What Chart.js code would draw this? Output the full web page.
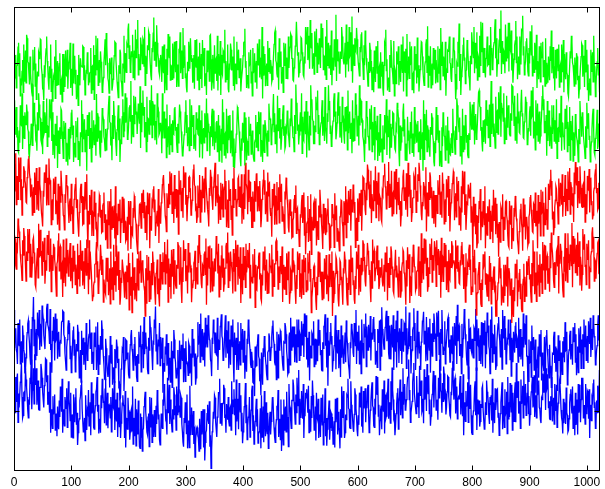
<!DOCTYPE html>
<html><head><meta charset="utf-8">
<script src="https://cdn.jsdelivr.net/npm/chart.js@4.4.1/dist/chart.umd.min.js"></script>
<style>html,body{margin:0;padding:0;background:#fff;}#wrap{width:605px;height:489px;}</style>
</head><body><div id="wrap"><canvas id="c" width="605" height="489"></canvas></div>
<script>
// one value per sample, samples 0..1023
const xStep = 1;
const xMin = 0, xMax = 1023;
const xTickValues = [0,100,200,300,400,500,600,700,800,900,1000];
const yTickValues = [100,200,300,400,500];
const yMin = 31, yMax = 564;

const green1 = [
508,481,486,509,471,496,497,518,523,485,511,462,482,474,490,503,466,521,479,492,514,477,532,528,501,500,488,475,507,488,476,466,
462,515,491,499,518,473,499,458,473,490,485,512,509,504,527,526,494,487,470,470,457,497,483,506,516,530,502,494,479,469,496,483,
521,467,493,456,468,484,481,507,459,526,474,489,502,475,489,499,511,464,478,481,455,510,467,510,496,472,514,486,485,515,470,493,
499,504,523,471,487,493,462,522,476,501,508,476,492,458,466,486,451,509,483,474,505,497,497,495,519,518,480,497,463,478,490,489,
512,502,474,478,488,489,517,465,495,496,469,520,458,509,486,531,509,492,528,474,491,503,477,513,501,493,466,471,483,500,512,527,
497,534,520,500,482,478,465,505,491,487,506,468,473,481,495,508,524,523,503,490,478,469,460,497,488,515,511,479,476,462,499,494,
531,477,511,494,489,521,518,538,545,505,520,489,496,513,507,532,483,497,514,480,538,506,527,517,549,486,510,501,492,529,521,512,
499,528,526,496,541,474,508,499,487,520,515,536,533,509,497,485,480,517,512,534,552,503,518,524,496,543,523,511,505,490,486,502,
509,500,478,519,493,488,521,465,504,491,469,516,486,533,513,506,530,480,497,496,481,522,505,482,524,509,489,525,472,494,498,473,
516,511,535,488,503,514,482,540,494,504,520,483,488,472,466,501,491,524,512,493,528,509,501,505,477,481,509,470,526,499,495,527,
480,491,507,469,523,482,492,510,471,526,498,497,517,473,486,488,463,514,489,501,514,479,531,532,504,468,478,509,494,470,520,488,
503,505,479,531,468,510,497,485,525,463,509,489,486,514,512,500,538,478,502,494,481,521,470,466,499,492,522,515,491,497,507,474,
530,468,498,499,476,524,492,508,515,483,489,505,467,480,480,494,508,523,524,539,495,502,471,485,486,471,512,497,499,515,477,490,
462,517,488,493,511,478,493,502,470,522,501,497,527,483,506,506,481,541,459,519,485,490,510,473,496,499,474,525,490,512,517,488,
503,496,478,481,492,507,521,534,537,503,500,487,483,512,469,528,495,501,513,476,488,495,466,523,497,508,522,482,506,499,481,530,
494,511,518,533,531,505,505,480,479,494,496,519,525,547,547,508,512,483,489,498,503,529,528,512,508,486,484,507,499,541,523,522,
541,503,510,531,493,549,519,517,534,493,506,511,487,536,512,507,539,489,523,514,498,528,514,494,545,519,518,540,492,508,507,486,
530,481,549,497,515,523,494,510,520,486,537,474,506,501,491,527,516,496,555,479,527,504,502,513,488,489,513,505,541,530,519,502,
498,506,523,483,544,498,512,524,490,541,507,509,535,491,553,477,521,505,497,528,515,513,540,527,511,500,493,485,518,512,532,535,
505,499,481,520,497,537,522,505,494,486,473,501,489,523,515,490,502,469,478,495,466,514,493,478,519,506,488,525,471,493,496,471,
512,486,485,501,470,462,497,523,520,538,491,504,468,481,483,467,509,495,526,513,494,488,476,525,462,493,490,476,513,502,498,519,
474,494,502,478,521,499,489,530,467,513,495,489,516,462,533,480,501,507,482,524,497,497,519,469,486,488,465,519,491,503,510,476,
529,483,497,467,480,492,506,524,523,507,490,480,474,496,501,521,527,489,542,472,508,503,485,519,471,491,499,474,517,500,492,515,
476,503,503,478,519,491,488,516,469,540,497,507,524,485,507,499,480,524,462,492,489,514,513,518,530,500,499,482,478,505,494,529,
515,513,487,458,470,499,496,524,511,545,479,510,463,484,488,497,520,529,503,506,476,490,492,526,517,502,485,481,468,508,499,535,
524,513,506,541,488,523,511,494,535,480,509,506,484,531,497,547,522,512,546,489,513,517,491,483,505,509,530,497,498,504,520,486,
541,511,517,492,496,518,523,535,550,505,528,484,502,499,514,526,539,512,560,487,525,506,499,514,512,488,544,502,521,530,505,546,
490,546,516,513,537,491,511,477,493,504,520,525,548,500,530,481,501,507,487,530,513,498,538,537,554,509,519,486,496,502,524,528,
511,490,485,517,499,536,527,509,543,485,508,500,489,523,515,492,532,471,502,496,481,519,496,478,523,505,509,524,484,498,503,473,
528,476,500,492,477,507,493,480,519,502,537,488,504,518,482,496,468,515,495,482,516,504,491,521,472,495,498,478,521,503,489,526,
466,510,493,481,512,489,486,465,461,478,478,513,505,531,524,500,497,487,473,506,488,475,511,507,480,485,459,470,484,496,507,522,
520,484,497,508,472,526,489,493,515,469,498,456,476,482,463,515,490,501,512,478,531,495,496,461,474,490,501,517,486,498,470,472];

const green2 = [
434,457,418,440,449,414,426,399,397,422,408,451,429,428,465,401,439,416,413,443,436,429,452,444,424,421,395,393,406,407,430,425,
405,475,427,454,440,429,414,417,399,443,423,465,452,438,436,411,408,432,395,456,417,420,443,436,420,459,404,427,426,414,458,440,
437,458,410,443,394,417,416,390,430,406,405,439,379,422,401,396,426,413,447,445,421,408,390,433,413,415,431,387,408,401,382,424,
401,389,426,413,442,446,417,428,386,404,408,392,433,418,415,437,389,410,403,381,420,415,457,398,441,421,412,435,398,402,423,376,
440,426,416,443,401,411,425,386,445,402,420,434,406,419,429,393,464,410,442,438,413,422,396,391,422,408,448,440,435,415,411,399,
424,400,409,424,435,451,462,432,431,405,415,388,440,413,456,439,429,420,404,393,423,434,451,411,436,386,410,407,427,438,458,415,
443,421,465,431,437,460,412,415,426,448,451,433,479,407,440,424,415,462,430,439,461,441,444,418,418,453,439,430,473,402,454,420,
453,468,439,449,414,426,432,398,461,409,436,435,418,457,442,428,474,414,456,452,428,452,411,423,433,406,465,441,444,417,419,431,
421,429,396,465,413,439,444,413,418,436,391,452,403,424,427,395,440,406,414,430,398,434,419,418,447,449,422,426,406,397,430,408,
429,452,444,436,421,408,393,395,407,417,425,443,457,420,440,404,414,426,399,458,422,405,451,427,428,440,401,414,416,399,443,423,
436,418,417,451,391,434,412,407,445,390,423,425,408,442,427,414,459,399,442,430,421,419,393,427,415,438,447,404,428,445,400,421,
408,431,433,398,415,440,387,428,401,400,424,385,458,407,443,394,417,419,390,447,406,396,439,411,422,440,396,422,413,393,445,381,
413,379,397,401,418,426,449,447,432,421,408,390,381,413,399,431,426,408,443,382,416,437,388,410,407,394,438,416,422,430,395,405,
422,400,391,387,408,411,440,403,415,432,399,444,426,418,443,392,411,407,386,429,402,397,434,428,419,409,393,422,410,453,438,435,
436,406,414,429,446,464,421,442,407,413,429,396,462,422,438,448,413,435,400,411,425,440,451,416,427,401,404,425,422,445,440,420,
420,403,436,427,459,440,427,414,414,398,440,419,475,447,454,422,429,406,417,430,443,421,465,396,438,413,411,444,432,418,456,391,
444,432,416,400,439,417,474,453,458,435,433,407,407,428,421,461,450,446,468,419,440,406,413,425,431,443,457,416,436,438,410,472,
426,418,407,442,432,474,446,456,419,428,404,411,425,433,455,465,438,444,412,419,431,453,466,439,450,414,422,432,408,461,434,436,
417,407,449,421,426,450,400,468,419,440,444,413,423,431,396,457,410,436,432,410,465,444,447,416,421,439,405,474,428,458,456,433,
434,415,411,403,386,424,407,456,438,437,415,416,400,447,424,430,451,398,432,422,405,449,388,433,413,412,439,387,420,409,393,441,
397,412,413,386,428,409,401,440,423,421,458,394,439,415,417,446,390,430,403,403,425,443,442,417,416,401,399,427,424,454,447,437,
397,381,428,399,409,426,422,443,453,416,435,388,400,407,387,438,411,422,403,395,432,413,444,397,418,418,392,449,407,432,429,408,
415,433,398,415,421,389,435,403,402,420,376,457,389,441,413,412,446,398,428,423,404,401,392,426,418,442,437,417,410,386,381,408,
396,449,411,432,440,408,422,381,393,399,381,426,404,443,437,416,415,388,428,407,400,438,385,422,407,395,394,413,419,397,447,418,
422,408,395,427,412,459,451,442,429,421,437,393,415,415,383,447,398,428,424,400,440,436,408,417,394,391,419,412,455,445,431,423,
452,425,423,455,406,438,441,412,417,431,431,466,468,450,449,422,426,408,398,434,409,426,435,407,457,432,428,446,414,419,452,404,
441,479,418,440,453,415,430,430,402,461,420,444,445,418,466,439,437,473,415,454,448,443,433,465,407,437,424,412,462,426,439,451,
445,418,416,442,434,474,473,456,451,428,462,411,438,433,407,465,431,444,420,419,444,453,469,439,442,414,413,432,435,461,455,436,
406,407,425,421,443,450,416,468,438,440,472,413,432,431,400,457,417,436,453,410,435,444,407,416,428,439,461,474,446,458,419,433,
419,440,393,456,410,429,445,404,426,423,402,451,418,436,451,410,434,427,407,458,390,424,425,409,442,435,414,462,399,431,430,415,
416,400,447,424,430,451,398,432,422,405,449,388,433,413,412,439,387,420,409,393,441,434,415,411,403,386,424,407,456,438,437,415,
443,439,417,417,401,390,427,403,454,425,437,442,412,416,386,399,409,424,440,447,421,397,394,413,415,428,446,401,430,423,403,458];

const red1 = [
384,352,356,396,337,369,369,343,391,374,363,391,342,366,325,357,357,381,376,365,361,340,339,368,372,389,393,373,367,347,348,360,
325,344,357,328,374,355,348,379,331,347,364,330,380,361,353,340,327,321,312,353,346,374,369,362,383,336,355,368,337,390,362,365,
362,314,335,343,319,367,350,352,369,326,341,339,314,361,331,308,358,340,376,362,349,346,325,323,308,349,339,371,360,358,344,330,
316,340,344,318,361,326,335,304,320,343,352,360,368,333,343,324,311,300,328,336,355,361,339,347,314,315,346,331,363,357,332,372,
312,287,330,315,348,340,325,354,301,329,327,301,352,323,339,312,314,293,290,327,323,348,345,322,331,305,306,336,338,351,316,326,
296,303,320,287,341,324,314,341,287,355,309,329,335,311,323,336,298,358,277,327,312,302,338,318,325,343,293,321,316,346,332,305,
344,319,318,295,297,306,323,284,341,323,314,341,286,312,304,302,333,322,347,344,321,315,296,288,280,313,315,337,338,326,310,350,
328,348,354,322,340,305,312,336,296,351,331,326,350,287,324,315,307,340,337,354,358,329,343,301,316,323,330,312,355,293,336,327,
315,339,343,360,366,371,350,342,324,319,306,350,339,334,361,338,375,362,348,373,327,344,352,316,371,332,345,355,322,329,354,303,
376,349,349,365,330,341,356,322,381,357,364,374,337,348,318,337,345,368,369,353,354,325,331,342,362,377,383,360,358,333,335,316,
323,359,346,334,371,317,354,344,328,370,345,354,367,328,380,368,353,341,331,325,312,356,347,377,369,350,342,331,357,362,373,385,
335,358,357,340,372,315,346,344,320,362,332,337,361,323,353,357,377,332,364,311,329,343,311,365,342,348,355,320,336,302,367,334,
380,342,351,355,324,336,343,367,369,335,357,357,333,372,315,346,348,320,372,332,385,361,359,353,326,377,340,364,363,329,346,311,
311,352,339,318,364,341,351,372,373,329,358,342,330,364,343,311,321,343,354,365,377,349,365,326,336,352,318,374,347,361,362,333,
324,328,300,355,336,339,361,314,347,346,315,363,331,332,357,316,372,344,340,361,318,335,326,320,304,352,343,368,360,343,333,311,
305,338,343,324,329,299,300,319,322,343,348,328,359,304,331,333,308,309,289,296,326,322,340,348,316,331,351,302,334,280,305,315,
317,347,294,321,332,296,349,280,323,315,308,338,341,310,319,344,290,318,311,297,336,323,354,341,326,314,303,286,338,304,315,333,
302,306,322,331,344,315,315,284,288,311,313,337,337,322,326,288,350,319,319,336,295,310,306,295,284,323,323,342,341,317,312,290,
341,337,314,358,299,343,332,316,353,330,325,355,307,336,343,328,360,354,328,340,288,312,322,296,344,331,317,350,335,324,354,307,
337,369,368,354,353,331,325,362,342,383,377,358,360,335,333,376,316,349,349,330,365,356,341,381,322,364,357,337,374,318,348,345,
336,320,317,352,349,370,370,384,358,356,332,333,364,348,386,334,361,335,340,376,324,349,351,326,375,355,343,378,326,363,357,337,
368,331,341,312,325,347,356,369,377,342,350,357,331,373,362,323,385,346,359,371,334,354,317,328,344,345,370,367,354,380,328,353,
341,372,365,385,376,359,347,326,319,340,335,363,358,346,332,380,306,351,342,324,363,343,374,369,345,357,322,333,353,315,337,348,
311,348,343,327,365,352,349,371,326,345,352,322,374,354,361,315,333,343,317,366,346,350,370,324,355,306,329,339,342,361,364,375,
372,319,346,350,323,369,341,341,364,314,333,331,307,358,328,376,353,349,375,325,349,308,324,339,338,360,360,344,344,362,317,335,
321,277,346,312,332,338,303,325,287,293,324,316,341,332,355,296,329,320,311,341,336,314,358,287,327,309,302,335,318,323,343,298,
330,311,306,336,293,354,319,326,345,303,328,338,299,315,277,317,312,294,335,332,321,349,296,323,316,308,340,341,325,319,301,290,
288,341,319,314,336,286,310,304,295,333,323,347,342,321,317,296,290,280,306,315,331,338,315,310,284,344,311,318,337,297,322,323,
312,290,293,323,327,345,348,331,322,306,305,338,336,316,351,312,326,330,287,348,315,325,340,301,354,327,329,352,301,339,323,314,
357,320,332,309,311,361,343,353,365,377,348,364,320,329,302,311,334,342,358,355,340,336,315,367,344,335,362,357,337,372,323,346,
347,340,371,324,355,351,330,375,358,343,379,326,363,357,337,336,350,317,374,349,386,370,359,380,333,361,364,339,381,362,356,335,
334,359,361,334,376,317,349,344,326,370,355,354,378,328,363,368,337,341,320,325,352,356,370,377,384,350,356,331,333,362,348,385];

const red2 = [
275,301,298,267,263,289,286,321,314,306,296,280,271,264,250,296,279,310,301,285,268,249,283,273,309,282,292,309,254,292,277,253,
270,296,299,282,281,245,242,264,264,287,253,315,277,304,308,278,284,256,295,285,271,299,246,261,273,261,302,290,280,307,260,272,
298,237,279,265,261,292,288,274,266,248,232,269,272,295,304,261,287,289,251,266,269,231,297,247,276,272,243,298,258,284,285,255,
267,281,293,249,276,264,241,290,260,273,284,245,268,261,235,292,252,275,279,243,296,268,261,284,244,257,272,240,287,272,256,297,
265,270,234,296,251,283,283,259,259,226,232,244,248,268,269,280,294,254,272,235,240,262,266,291,278,257,257,274,225,251,244,237,
234,276,260,249,276,233,250,264,223,283,240,255,265,228,291,245,268,272,237,290,256,263,283,239,262,222,231,253,247,274,274,258,
244,230,260,252,229,267,252,248,281,216,270,233,249,254,213,282,239,260,265,228,242,247,226,275,254,239,283,258,272,284,248,263,
273,266,251,243,238,209,264,224,279,250,255,277,226,261,242,228,270,245,283,271,261,254,235,222,258,259,274,234,252,231,220,280,
239,271,266,246,282,267,260,294,246,280,271,258,297,225,275,243,250,269,229,285,255,262,286,234,263,273,245,241,268,264,294,290,
281,245,256,288,240,224,265,248,296,273,274,286,249,261,267,235,293,259,279,282,262,264,225,246,241,250,270,272,284,240,259,265,
246,290,270,302,285,279,261,246,241,268,266,255,280,283,257,298,222,276,244,289,273,264,290,236,264,287,238,272,251,243,275,261,
269,301,284,279,258,292,231,267,262,239,278,290,253,275,237,246,264,264,289,293,270,305,242,282,257,249,283,271,266,258,235,286,
260,281,238,296,266,275,291,245,277,262,252,288,224,269,263,234,288,250,273,278,242,292,259,266,285,274,264,293,230,268,249,254,
247,280,261,254,286,219,268,240,239,265,264,277,282,251,258,229,226,256,244,283,272,262,289,238,267,274,235,258,256,235,281,267,
266,259,291,232,274,248,243,269,269,294,296,272,284,240,260,266,247,278,273,257,289,225,268,244,240,265,265,234,281,251,257,283,
251,223,236,262,259,238,287,259,273,268,255,237,223,256,240,283,266,262,281,231,258,247,229,274,252,234,279,260,264,276,237,250,
239,281,258,270,284,249,263,213,230,239,252,265,267,242,248,226,216,254,233,283,254,272,282,248,260,244,228,260,247,229,275,252,
259,279,234,255,252,226,280,242,266,270,243,283,209,261,224,235,250,258,277,274,261,252,228,220,245,273,271,251,254,238,222,264,
258,283,274,262,253,231,222,247,239,274,263,234,290,260,272,276,245,250,228,223,255,240,283,265,264,291,233,268,249,237,276,256,
261,296,292,274,275,249,243,267,268,293,284,279,257,262,240,225,272,241,297,270,281,284,249,259,264,281,290,256,273,240,245,265,
253,262,275,249,243,253,268,237,282,264,260,289,227,270,251,242,276,257,289,283,264,266,238,235,262,269,285,254,267,258,249,231,
277,249,261,230,238,264,270,285,283,259,257,242,222,273,243,288,268,263,280,224,254,252,232,277,259,291,286,266,265,238,241,260,
261,266,289,232,266,272,231,304,247,287,272,251,298,269,284,297,255,276,237,243,265,258,292,285,274,298,248,279,269,261,295,288,
277,243,296,268,271,286,257,262,284,230,299,248,278,276,248,293,265,271,291,239,272,260,237,285,253,251,281,265,295,290,269,272,
273,269,241,296,264,284,290,260,271,247,246,273,267,289,294,268,280,240,258,265,225,281,243,257,269,266,285,291,262,274,234,243,
237,278,260,267,285,246,264,210,233,236,256,262,271,239,247,223,220,251,239,280,266,269,283,245,258,241,232,257,251,226,278,249,
270,223,254,245,239,260,266,241,244,209,209,226,228,247,250,275,277,253,264,221,242,240,225,268,251,232,268,251,243,277,220,256,
264,258,233,235,252,201,239,216,208,242,226,269,261,253,274,220,250,237,258,263,229,246,217,214,243,251,269,226,254,244,232,272,
257,266,274,278,251,257,237,225,270,244,296,265,283,234,259,251,226,283,244,259,268,232,280,248,254,269,235,294,262,272,291,240,
290,262,275,278,246,253,264,237,293,264,305,289,282,270,249,242,271,257,258,283,286,266,301,235,279,269,292,284,267,258,239,231,
277,260,304,249,287,273,248,304,270,280,262,291,284,267,316,242,301,269,275,298,259,276,291,256,305,266,280,295,244,277,268,238,
257,309,286,291,303,266,268,245,292,274,278,296,241,263,260,278,283,304,311,287,300,249,274,272,252,270,281,293,295,258,257,281];

const blue1 = [
216,172,191,195,170,167,154,201,181,175,205,154,173,180,156,198,187,171,166,143,147,161,179,190,200,204,188,178,162,153,194,137,
208,203,231,175,205,159,180,194,163,213,190,187,216,170,200,200,174,221,214,206,187,179,171,193,202,218,223,199,196,191,177,217,
170,177,144,192,180,208,201,158,212,181,183,206,160,189,191,163,175,180,179,202,203,215,214,188,185,166,157,147,173,182,196,204,
188,201,160,175,144,156,173,192,197,164,182,145,156,177,169,199,191,171,138,150,170,133,192,165,176,184,153,169,179,147,201,180,
158,167,183,188,205,172,179,190,154,163,168,147,190,178,174,197,147,169,202,142,176,159,153,186,171,204,194,177,163,153,137,136,
183,172,157,146,139,150,164,127,186,159,155,176,130,150,146,133,171,166,149,182,174,155,160,129,131,114,115,148,152,171,169,185,
123,147,158,182,181,159,167,161,142,138,162,176,186,193,171,167,147,152,176,185,152,163,139,134,165,155,191,180,174,198,145,170,
176,191,149,208,165,181,190,172,174,148,143,184,170,209,196,195,181,163,147,179,178,205,195,220,169,188,154,166,182,174,201,152,
185,166,160,184,121,155,149,145,174,165,188,152,163,178,135,161,157,133,146,180,127,169,161,193,182,162,156,138,139,149,170,127,
120,181,152,148,176,163,158,189,133,172,162,134,180,157,155,155,141,178,175,143,150,166,129,194,161,176,183,151,166,130,138,159,
163,202,176,185,200,156,212,163,185,194,159,180,190,151,207,173,182,199,173,210,197,182,181,159,156,140,184,177,205,191,189,167,
190,165,164,207,147,181,179,170,197,201,211,186,183,158,160,175,175,210,161,193,188,166,203,149,176,182,153,198,182,174,205,155,
133,190,165,174,184,147,169,202,147,176,180,153,201,171,175,194,156,163,192,137,164,158,145,183,177,205,199,179,171,154,150,168,
158,133,132,149,117,174,151,152,174,177,188,163,160,134,142,118,167,155,130,172,162,186,179,160,153,142,136,167,169,189,185,158,
159,173,186,197,204,182,177,156,153,169,136,191,167,138,188,170,172,192,190,176,163,153,147,179,178,201,197,188,169,160,142,144,
185,190,153,207,170,182,197,173,181,197,156,181,188,156,205,184,174,205,158,189,186,163,203,176,177,200,162,212,194,185,210,159,
184,150,159,191,135,175,168,161,190,188,176,203,151,176,183,153,161,182,157,205,175,190,193,164,170,147,146,179,172,197,197,211,
175,190,150,207,129,181,164,170,190,201,177,186,145,158,168,175,184,210,148,193,172,166,193,149,166,182,139,198,161,174,187,155,
161,173,190,156,204,187,178,166,153,147,137,179,172,200,195,188,167,162,201,194,175,216,154,191,180,170,198,154,171,181,143,205,
178,174,161,200,191,185,212,151,197,182,170,199,184,173,209,158,190,186,182,205,208,180,194,153,166,169,150,194,185,178,204,147,
205,163,219,194,192,178,171,182,196,206,215,180,189,209,166,160,198,176,159,199,187,173,210,147,194,183,168,204,150,215,183,186,
155,195,182,169,206,154,191,182,168,201,199,176,220,149,195,165,172,190,213,174,186,143,167,170,193,196,218,181,201,147,174,178,
215,160,188,191,166,175,147,179,182,203,204,214,177,185,192,157,208,173,158,196,181,170,206,144,189,180,163,201,180,212,202,183,
189,158,213,186,200,215,165,190,147,194,178,216,191,165,172,170,203,154,171,181,193,205,208,173,182,156,156,187,168,166,197,147,
152,201,185,175,209,154,222,180,196,198,163,171,177,143,200,161,183,190,217,204,188,178,161,153,180,137,206,172,194,195,170,167,
183,170,161,196,194,181,217,147,205,178,176,195,158,169,187,154,202,182,151,201,179,176,204,149,191,165,213,190,198,174,170,143,
205,173,220,156,188,187,166,199,174,147,152,179,191,200,208,188,181,162,172,194,148,216,184,191,209,170,195,154,163,181,179,205,
182,189,159,205,140,184,177,156,191,181,167,197,202,173,185,182,156,207,163,190,194,159,180,185,151,212,173,200,199,176,210,163,
163,140,134,182,155,156,180,139,198,170,170,185,147,160,182,121,159,149,161,174,138,188,176,163,193,135,167,157,152,146,185,127,
169,186,193,171,162,147,138,176,149,152,127,139,166,165,184,191,155,174,145,172,165,123,187,158,158,181,131,167,156,142,180,162,
185,156,202,169,170,191,130,138,164,170,186,192,159,176,177,153,196,179,183,201,156,188,141,160,174,144,195,173,167,197,149,182,
166,188,149,205,182,174,198,158,174,186,155,203,190,177,207,162,181,194,170,210,201,185,186,153,158,170,175,197,210,181,193,156];

const blue2 = [
124,101,98,139,111,137,143,87,120,104,104,133,140,155,116,92,95,121,122,111,149,136,127,116,101,92,113,107,138,131,159,102,
124,125,149,108,165,134,130,149,107,121,135,102,101,127,127,154,148,138,122,113,104,129,131,160,159,133,141,107,112,122,98,156,
75,102,90,80,117,96,103,119,78,93,97,71,105,84,79,112,93,128,121,99,137,75,102,90,83,116,109,103,126,81,96,134,
114,105,89,121,70,90,96,69,119,96,87,115,126,84,98,61,75,87,91,112,117,129,135,102,102,76,80,92,66,118,93,78,
101,98,124,83,93,110,72,133,97,104,120,81,79,96,106,122,125,139,99,107,74,89,91,75,118,103,137,126,110,111,86,125,
137,84,102,121,80,106,107,101,92,116,76,83,126,105,103,134,78,113,95,88,121,70,104,98,82,121,69,86,96,109,118,107,
105,69,123,58,92,87,79,115,98,99,67,76,99,102,77,128,62,92,88,71,114,60,102,89,73,112,81,59,57,97,70,93,
54,78,80,105,113,122,99,89,76,73,93,97,59,116,88,81,115,64,96,90,70,101,82,70,106,85,124,113,91,96,67,61,
72,97,84,80,113,106,131,121,102,89,87,73,138,98,110,130,85,113,98,86,76,102,91,127,119,95,106,78,128,109,95,125,
101,103,93,118,115,85,76,64,59,92,86,110,95,74,119,57,83,89,58,129,72,95,104,73,88,100,62,82,47,63,79,76,
81,79,67,54,91,68,56,100,73,84,102,58,102,43,64,75,78,97,107,89,85,111,59,72,34,55,76,82,99,91,118,115,
88,79,70,93,98,121,121,137,86,102,109,83,107,109,130,126,92,96,75,108,101,90,116,88,83,103,105,78,134,97,113,105,
125,95,114,72,136,88,97,114,79,132,108,99,118,77,98,63,76,90,105,111,132,86,107,67,83,93,94,116,70,84,101,123,
129,77,95,62,73,88,100,114,82,102,63,73,76,81,103,57,118,70,85,105,64,123,92,71,110,79,74,98,57,67,89,99,
73,88,97,115,116,96,81,70,64,82,90,106,101,124,70,91,85,67,113,54,96,80,61,113,78,99,105,76,122,93,89,59,
131,107,104,89,80,112,112,136,129,110,98,85,119,98,138,123,106,147,85,114,97,92,123,106,91,131,69,99,94,121,115,125,
112,98,129,75,102,91,76,117,92,135,118,102,78,80,105,66,121,93,90,114,69,89,96,70,115,96,84,119,61,87,87,126,
71,92,60,79,89,98,112,67,81,99,97,77,93,62,69,88,58,114,87,102,115,73,99,81,76,57,102,70,128,105,92,123,
99,69,75,96,90,118,116,137,103,102,81,80,134,107,102,92,80,76,96,126,119,103,93,78,71,95,84,121,112,104,128,82,
98,75,123,103,109,126,87,111,103,125,130,98,75,83,101,110,124,133,106,104,83,81,114,96,140,122,119,139,94,107,72,89,
101,106,79,125,110,99,135,74,119,91,94,118,116,137,91,110,105,86,134,101,150,124,113,93,96,72,82,97,108,120,126,79,
111,116,136,95,116,122,92,149,107,127,131,101,102,113,126,138,139,159,113,124,87,98,104,111,133,143,155,120,120,104,97,140,
105,109,121,92,152,118,125,135,99,102,114,86,148,113,117,139,100,154,126,120,141,97,113,83,94,111,119,129,146,104,130,141,
129,101,104,113,90,138,115,159,143,124,121,98,132,111,151,143,117,120,96,104,122,140,139,116,108,95,93,122,118,149,157,127,
113,135,138,97,109,128,91,112,116,114,130,140,96,119,121,94,142,72,110,98,88,123,105,109,133,87,151,103,119,130,95,75,
73,91,100,105,126,134,95,150,78,113,103,96,112,82,88,108,104,126,129,101,101,79,80,110,96,135,122,119,109,94,85,116,
107,118,89,137,75,110,103,86,126,101,111,124,125,93,98,72,83,97,110,120,133,79,104,106,81,125,96,99,122,74,139,91,
110,93,132,114,99,130,78,121,104,88,123,133,87,155,115,120,134,97,102,111,80,136,108,116,129,92,146,107,114,131,95,102,
120,151,97,117,83,96,111,122,129,139,104,108,141,93,109,118,92,157,118,129,135,104,102,90,86,115,113,143,139,121,154,132,
101,149,125,128,142,103,111,91,90,117,106,139,88,112,115,85,131,106,100,130,81,94,109,110,136,133,119,101,92,88,74,114,
86,110,102,85,127,98,95,76,78,91,109,119,125,106,97,128,80,95,106,72,121,84,89,113,73,131,98,102,130,87,113,138,
114,138,92,106,106,85,131,97,99,123,121,91,125,69,107,94,89,115,112,131,136,104,110,80,85,112,98,129,123,98,147,119];

const seriesList = [
  {name:'green1', data:green1, color:'#00ff00'},
  {name:'green2', data:green2, color:'#00ff00'},
  {name:'red1',   data:red1,   color:'#ff0000'},
  {name:'red2',   data:red2,   color:'#ff0000'},
  {name:'blue1',  data:blue1,  color:'#0000ff'},
  {name:'blue2',  data:blue2,  color:'#0000ff'}
];

const toPoints = arr => arr.map((v, i) => ({x: i * xStep, y: v}));

const framePlugin = {
  id: 'frame',
  afterDatasetsDraw(chart) {
    const {ctx, chartArea: a, scales: {x, y}} = chart;
    const L = Math.round(a.left) + 0.5, R = Math.round(a.right) - 0.5;
    const T = Math.round(a.top) + 0.5, B = Math.round(a.bottom) - 0.5;
    const tl = 5;
    ctx.save();
    ctx.strokeStyle = '#000';
    ctx.lineWidth = 1;
    ctx.beginPath();
    xTickValues.forEach(v => {
      const px = Math.round(x.getPixelForValue(v)) + 0.5;
      ctx.moveTo(px, B); ctx.lineTo(px, B - tl);
      ctx.moveTo(px, T); ctx.lineTo(px, T + tl);
    });
    yTickValues.forEach(v => {
      const py = Math.round(y.getPixelForValue(v)) + 0.5;
      ctx.moveTo(L, py); ctx.lineTo(L + tl, py);
      ctx.moveTo(R, py); ctx.lineTo(R - tl, py);
    });
    ctx.stroke();
    ctx.strokeRect(L, T, R - L, B - T);
    ctx.restore();
  }
};

new Chart(document.getElementById('c'), {
  type: 'line',
  data: {
    datasets: seriesList.map(s => ({
      label: s.name,
      data: toPoints(s.data),
      borderColor: s.color,
      backgroundColor: s.color,
      borderWidth: 1.3,
      pointRadius: 0,
      tension: 0,
      fill: false
    }))
  },
  options: {
    responsive: false,
    devicePixelRatio: 1,
    animation: false,
    events: [],
    layout: {padding: {left: 14, right: 5, top: 7, bottom: 0}},
    plugins: {legend: {display: false}, tooltip: {enabled: false}},
    scales: {
      x: {
        type: 'linear', min: xMin, max: xMax,
        afterBuildTicks: s => { s.ticks = xTickValues.map(v => ({value: v})); },
        afterFit: s => { s.height = 18; },
        grid: {display: false, drawTicks: false},
        border: {display: false},
        ticks: {color: '#000', padding: 4, maxRotation: 0, autoSkip: false,
                callback: v => String(v),
                font: {family: '"Liberation Sans", Arial, sans-serif', size: 12}}
      },
      y: {
        type: 'linear', min: yMin, max: yMax, display: false,
        afterBuildTicks: s => { s.ticks = yTickValues.map(v => ({value: v})); }
      }
    }
  },
  plugins: [framePlugin]
});
</script></body></html>
